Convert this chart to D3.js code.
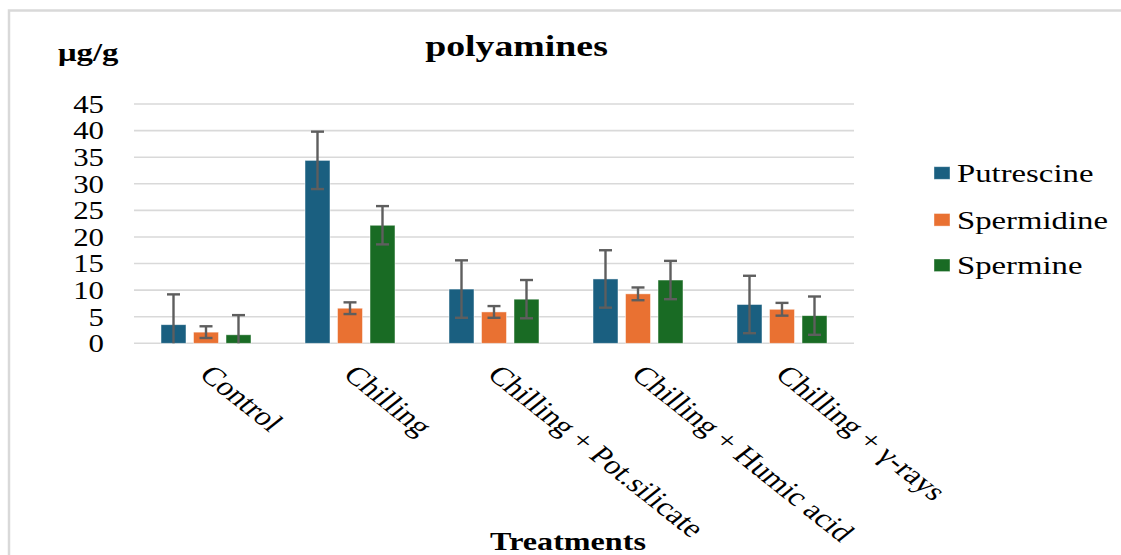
<!DOCTYPE html>
<html>
<head>
<meta charset="utf-8">
<script src="https://cdn.jsdelivr.net/npm/d3@7"></script>
<style>
  html, body { margin: 0; padding: 0; background: #fff; }
  svg { display: block; }
  text { font-family: "Liberation Serif", "Times New Roman", serif; fill: #000; }
</style>
</head>
<body>
<svg id="chart" width="1121" height="555"></svg>
<script>
const categories = ["Control", "Chilling", "Chilling + Pot.silicate", "Chilling + Humic acid", "Chilling + \u03b3-rays"];
const seriesNames = ["Putrescine", "Spermidine", "Spermine"];
const putrescine = [3.5, 34.4, 10.2, 12.1, 7.3];
const spermidine = [2.1, 6.6, 5.9, 9.3, 6.4];
const spermine = [1.6, 22.2, 8.3, 11.9, 5.2];
const putrescineErr = [5.7, 5.4, 5.4, 5.4, 5.4];
const spermidineErr = [1.1, 1.1, 1.1, 1.2, 1.2];
const spermineErr = [3.7, 3.6, 3.6, 3.6, 3.6];
const yTicks = [0, 5, 10, 15, 20, 25, 30, 35, 40, 45];
const colors = ["#1a5f80", "#e97132", "#196b24"];

const values = [putrescine, spermidine, spermine];
const errors = [putrescineErr, spermidineErr, spermineErr];

const SX = 1.26; // horizontal stretch of the original image
const svg = d3.select("#chart");

// frame
svg.append("rect").attr("x", 9).attr("y", 10.5).attr("width", 1130).attr("height", 560)
  .attr("fill", "none").attr("stroke", "#d9d9d9").attr("stroke-width", 2.5);

const plotL = 134, plotR = 854, plotT = 104, plotB = 343.3;
const x0 = d3.scaleBand().domain(categories).range([plotL, plotR]).padding(0);
const x1 = d3.scaleBand().domain(seriesNames).range([0, 90]).paddingInner(7.5 / 32.5).paddingOuter(0);
const y = d3.scaleLinear().domain([0, 45]).range([plotB, plotT]);

// gridlines
svg.append("g").selectAll("line").data(yTicks).join("line")
  .attr("x1", plotL).attr("x2", plotR)
  .attr("y1", d => y(d)).attr("y2", d => y(d))
  .attr("stroke", "#d9d9d9").attr("stroke-width", 1.6);

// y axis labels
const yAxis = svg.append("g").attr("transform", `translate(${plotL},0)`)
  .call(d3.axisLeft(y).tickValues(yTicks).tickSize(0).tickFormat(d3.format("d")));
yAxis.select(".domain").remove();
yAxis.selectAll("text")
  .attr("x", 0).attr("dy", "0.34em")
  .attr("text-anchor", "end")
  .attr("transform", `translate(-30,0) scale(${SX},1)`)
  .style("font-family", "Liberation Serif").style("font-size", "24.5px").attr("fill", "#000");

// bars
const groups = svg.append("g").selectAll("g").data(categories).join("g")
  .attr("transform", d => `translate(${x0(d) + x0.bandwidth() / 2 - 45},0)`);

groups.each(function(cat, ci) {
  const g = d3.select(this);
  seriesNames.forEach((s, si) => {
    const v = values[si][ci];
    g.append("rect")
      .attr("x", x1(s)).attr("y", y(v))
      .attr("width", x1.bandwidth()).attr("height", y(0) - y(v))
      .attr("fill", colors[si]).attr("stroke", "#ffffff").attr("stroke-opacity", 0.6).attr("stroke-width", 0.8);
  });
  seriesNames.forEach((s, si) => {
    const v = values[si][ci], e = errors[si][ci];
    const cx = x1(s) + x1.bandwidth() / 2;
    const hi = v + e, lo = Math.max(0, v - e);
    const col = "#5e5e5e", sw = 2.4, cap = 6.5;
    g.append("line").attr("x1", cx).attr("x2", cx).attr("y1", y(hi)).attr("y2", y(lo))
      .attr("stroke", col).attr("stroke-width", sw);
    g.append("line").attr("x1", cx - cap).attr("x2", cx + cap).attr("y1", y(hi)).attr("y2", y(hi))
      .attr("stroke", col).attr("stroke-width", sw);
    if (v - e > 0) {
      g.append("line").attr("x1", cx - cap).attr("x2", cx + cap).attr("y1", y(lo)).attr("y2", y(lo))
        .attr("stroke", col).attr("stroke-width", sw);
    }
  });
});

// category labels (rotated)
svg.append("g").selectAll("text").data(categories).join("text")
  .attr("transform", d => `translate(${x0(d) + x0.bandwidth() / 2 - 8},376) scale(${SX},1) rotate(45)`)
  .attr("text-anchor", "start")
  .style("font-size", "26.3px")
  .text(d => d);

// title
svg.append("text")
  .attr("transform", `translate(516.5,56) scale(${SX},1)`)
  .attr("text-anchor", "middle").style("font-size", "30px").style("font-weight", "bold")
  .text("polyamines");

// y unit
svg.append("text")
  .attr("transform", `translate(58,61) scale(${SX},1)`)
  .attr("text-anchor", "start").style("font-size", "26px").style("font-weight", "bold")
  .text("\u03bcg/g");

// x title
svg.append("text")
  .attr("transform", `translate(568,550) scale(${SX},1)`)
  .attr("text-anchor", "middle").style("font-size", "25.5px").style("font-weight", "bold")
  .text("Treatments");

// legend
const legendY = [181.7, 228.5, 274];
const legend = svg.append("g").selectAll("g").data(seriesNames).join("g")
  .attr("transform", (d, i) => `translate(934,${legendY[i]})`);
legend.append("rect").attr("x", 0).attr("y", -15).attr("width", 16).attr("height", 12.6)
  .attr("fill", (d, i) => colors[i]).attr("stroke", "#ffffff").attr("stroke-opacity", 0.5).attr("stroke-width", 0.8);
legend.append("text")
  .attr("transform", `translate(23,0) scale(${SX},1)`)
  .style("font-size", "26px")
  .text(d => d);
</script>
</body>
</html>
